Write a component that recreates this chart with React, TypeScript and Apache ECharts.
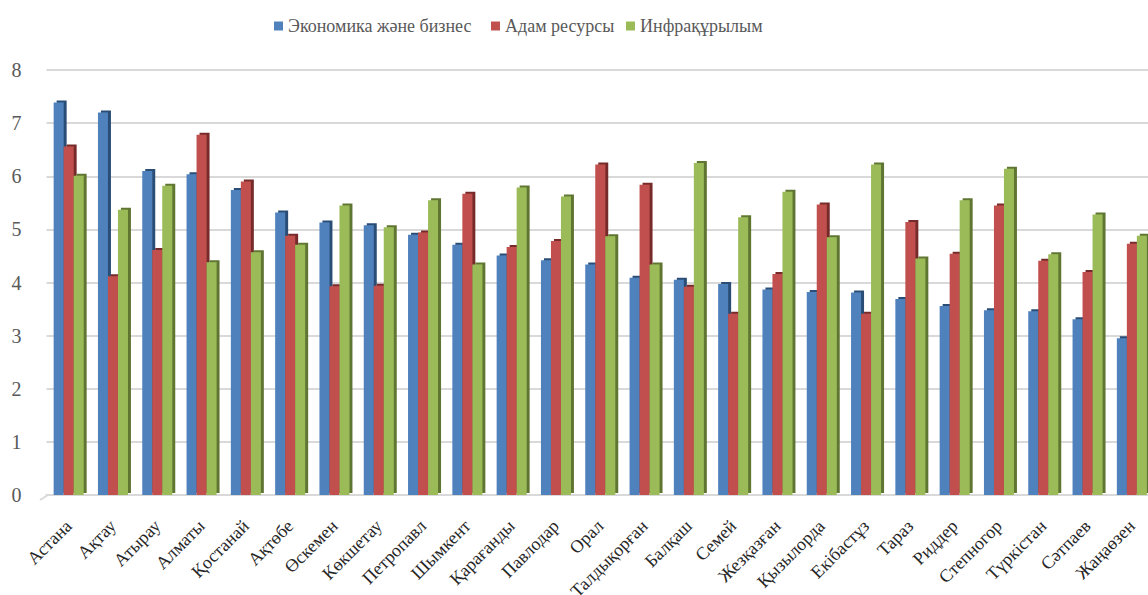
import React, { useEffect, useRef } from "react";
import * as echarts from "echarts";

const categories = [
  "Астана", "Ақтау", "Атырау", "Алматы", "Қостанай", "Ақтөбе", "Өскемен", "Көкшетау",
  "Петропавл", "Шымкент", "Қарағанды", "Павлодар", "Орал", "Талдықорған", "Балқаш",
  "Семей", "Жезқазған", "Қызылорда", "Екібастұз", "Тараз", "Риддер", "Степногор",
  "Түркістан", "Сәтпаев", "Жаңаөзен",
];

const economy = [
  7.39, 7.2, 6.1, 6.04, 5.74, 5.32, 5.13, 5.08, 4.9, 4.71, 4.51, 4.42, 4.34, 4.09, 4.05,
  3.97, 3.87, 3.82, 3.81, 3.69, 3.56, 3.48, 3.46, 3.31, 2.95,
];
const people = [
  6.56, 4.12, 4.61, 6.78, 5.9, 4.88, 3.93, 3.94, 4.94, 5.67, 4.67, 4.78, 6.22, 5.84, 3.92,
  3.41, 4.16, 5.47, 3.41, 5.14, 4.54, 5.45, 4.41, 4.2, 4.73,
];
const infra = [
  6.01, 5.37, 5.82, 4.38, 4.57, 4.71, 5.45, 5.04, 5.55, 4.34, 5.79, 5.62, 4.87, 4.34, 6.25,
  5.23, 5.71, 4.85, 6.22, 4.45, 5.55, 6.14, 4.53, 5.28, 4.88,
];

const seriesNames = ["Экономика және бизнес", "Адам ресурсы", "Инфрақұрылым"];
const colors = ["#4F81BD", "#C0504D", "#9BBB59"];
const sideColors = ["#2C4D75", "#772C2A", "#5F7530"];
const yTicks = [0, 1, 2, 3, 4, 5, 6, 7, 8];

const SERIF = "Liberation Serif";
const font = (size: number, color: string) => ({
  fontFamily: SERIF,
  fontStyle: "normal",
  fontWeight: "normal",
  fontSize: size,
  color,
});

export default function App() {
  const ref = useRef<HTMLDivElement>(null);
  useEffect(() => {
    if (!ref.current) return;
    const chart = echarts.init(ref.current, undefined, { renderer: "svg" });
    const data = [economy, people, infra];
    const legendLefts = [269, 486, 621];
    chart.setOption({
      animation: false,
      backgroundColor: "#ffffff",
      textStyle: { fontFamily: SERIF, fontWeight: "normal" },
      legend: seriesNames.map((n, i) => ({
        data: [n],
        left: legendLefts[i],
        top: 12,
        itemWidth: 9,
        itemHeight: 9,
        icon: "rect",
        itemGap: 0,
        textStyle: font(18, "#595959"),
      })),
      grid: { left: 46.5, top: 70, width: 1107.5, height: 425, containLabel: false, outerBoundsMode: "none" },
      xAxis: {
        type: "category",
        data: categories,
        axisLine: { show: true, lineStyle: { color: "#D9D9D9", width: 2 } },
        axisTick: { show: false },
        axisLabel: {
          interval: 0,
          rotate: 45,
          margin: 28,
          ...font(18, "#262626"),
        },
      },
      yAxis: {
        type: "value",
        min: 0,
        max: 8,
        interval: 1,
        axisLine: { show: false },
        axisTick: { show: false },
        splitLine: { lineStyle: { color: "#D9D9D9", width: 2 } },
        axisLabel: {
          margin: 25,
          ...font(20, "#595959"),
          padding: [5, 0, 0, 0],
          formatter: (v: number) => (yTicks.includes(v) ? String(v) : ""),
        },
      },
      series: data.map((d, i) => ({
        name: seriesNames[i],
        type: "bar",
        data: d,
        barWidth: 10,
        barGap: "0%",
        itemStyle: {
          color: colors[i],
          shadowColor: sideColors[i],
          shadowOffsetX: 3,
          shadowOffsetY: -2,
          shadowBlur: 0,
        },
      })),
      graphic: [
        {
          type: "line",
          shape: { x1: 40, y1: 500, x2: 48, y2: 495 },
          style: { stroke: "#D9D9D9", lineWidth: 2 },
        },
      ],
    });
    return () => chart.dispose();
  }, []);
  return <div ref={ref} style={{ width: 1148, height: 595, position: "absolute", left: 0, top: 0 }} />;
}
